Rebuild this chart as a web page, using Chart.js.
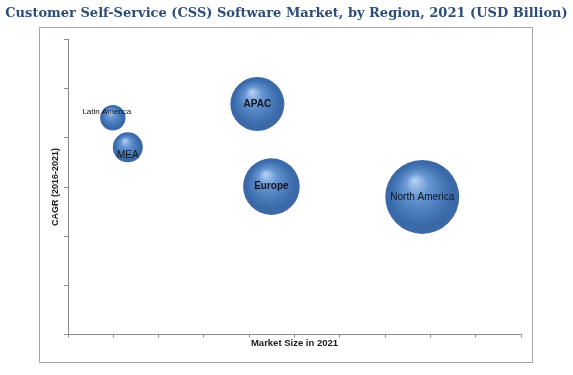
<!DOCTYPE html>
<html>
<head>
<meta charset="utf-8">
<script src="https://cdn.jsdelivr.net/npm/chart.js@4.4.1/dist/chart.umd.min.js"></script>
<style>
  html, body { margin: 0; padding: 0; background: #fff; }
</style>
</head>
<body>
<canvas id="cssChart" width="573" height="375"></canvas>
<script>
// values
const regions = ['North America', 'Europe', 'APAC', 'MEA', 'Latin America'];
const marketSize = [7.82, 4.49, 4.18, 1.32, 0.99];
const cagr = [2.80, 3.01, 4.69, 3.81, 4.41];
const bubbleSize = [37, 28.3, 27, 15, 12.7];

// label look per region (style only)
const labelStyle = {
  'North America': { font: '10px "Liberation Sans"', dx: 0, dy: 0 },
  'Europe': { font: 'bold 10px "Liberation Sans"', dx: 0, dy: 0 },
  'APAC': { font: 'bold 10px "Liberation Sans"', dx: 0, dy: 0 },
  'MEA': { font: '10px "Liberation Sans"', dx: 0, dy: 7.5 },
  'Latin America': { font: '8px "Liberation Sans"', dx: -6, dy: -6 }
};

function sphereFill(c){
  const chart = c.chart;
  if (c.type !== 'data' || !chart.chartArea) return '#4a7ebb';
  const cx = chart.scales.x.getPixelForValue(c.raw.x);
  const cy = chart.scales.y.getPixelForValue(c.raw.y);
  const r = c.raw.r;
  const g = chart.ctx.createRadialGradient(cx - r * 0.2, cy - r * 0.45, r * 0.03, cx, cy, r);
  g.addColorStop(0, '#b0cff2');
  g.addColorStop(0.3, '#6896d2');
  g.addColorStop(0.6, '#4a7cbc');
  g.addColorStop(0.85, '#3a69a8');
  g.addColorStop(1, '#3d6aa5');
  return g;
}

const framePlugin = {
  id: 'frame',
  beforeDraw(chart){
    const ctx = chart.ctx;
    ctx.save();
    ctx.strokeStyle = '#a6a6a6';
    ctx.lineWidth = 1;
    ctx.strokeRect(39.5, 27.5, 493, 335);
    ctx.restore();
  }
};

const bubbleLabels = {
  id: 'bubbleLabels',
  afterDatasetsDraw(chart){
    const ctx = chart.ctx;
    const meta = chart.getDatasetMeta(0);
    ctx.save();
    ctx.fillStyle = '#14141e';
    ctx.textAlign = 'center';
    ctx.textBaseline = 'middle';
    meta.data.forEach((pt, i) => {
      const s = labelStyle[regions[i]];
      ctx.font = s.font;
      ctx.fillText(regions[i], pt.x + s.dx, pt.y + s.dy);
    });
    ctx.restore();
  }
};

const points = regions.map((r, i) => ({ x: marketSize[i], y: cagr[i], r: bubbleSize[i] }));

new Chart(document.getElementById('cssChart').getContext('2d'), {
  type: 'bubble',
  data: {
    datasets: [{
      label: 'Regions',
      data: points,
      backgroundColor: sphereFill,
      borderWidth: 0
    }]
  },
  options: {
    responsive: false,
    animation: false,
    events: [],
    layout: { padding: { top: 0, left: 0, right: 0, bottom: 26 } },
    plugins: {
      legend: { display: false },
      tooltip: { enabled: false },
      title: {
        display: true,
        text: 'Customer Self-Service (CSS) Software Market, by Region, 2021 (USD Billion)',
        color: '#2c4d7c',
        font: { family: '"DejaVu Serif", serif', size: 13, weight: 'bold' },
        padding: { top: 6, bottom: 18 }
      }
    },
    scales: {
      x: {
        type: 'linear', min: 0, max: 10,
        ticks: { stepSize: 1, display: false },
        grid: { drawOnChartArea: false, drawTicks: true, tickLength: 3, color: '#8c8c8c' },
        border: { display: true, color: '#8c8c8c' },
        title: {
          display: true, text: 'Market Size in 2021', color: '#1a1a1a',
          font: { family: '"Liberation Sans"', size: 9.5, weight: 'bold' },
          padding: { top: 0, bottom: 0 }
        }
      },
      y: {
        type: 'linear', min: 0, max: 6,
        afterFit(s){ s.width = 68; },
        ticks: { stepSize: 1, display: false },
        grid: { drawOnChartArea: false, drawTicks: true, tickLength: 4, color: '#8c8c8c' },
        border: { display: true, color: '#8c8c8c' },
        title: {
          display: true, text: 'CAGR (2016-2021)', color: '#1a1a1a',
          font: { family: '"Liberation Sans"', size: 9, weight: 'bold' },
          padding: { top: 50, bottom: 0 }
        }
      },
      // empty right-hand spacer so the plot ends where the reference's does
      spacer: {
        type: 'linear', position: 'right',
        afterFit(s){ s.width = 52; },
        ticks: { display: false },
        grid: { display: false },
        border: { display: false }
      }
    }
  },
  plugins: [framePlugin, bubbleLabels]
});
</script>
</body>
</html>
